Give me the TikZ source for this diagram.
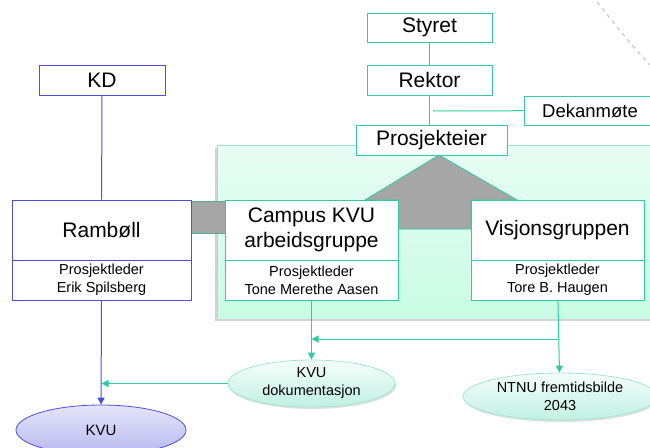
\documentclass[tikz,border=0pt]{standalone}
\usepackage{fontspec}
\setmainfont{Liberation Sans}
\usetikzlibrary{arrows.meta,shapes.geometric,shadows}
\definecolor{kblue}{RGB}{78,78,218}
\definecolor{kteal}{RGB}{46,204,158}
\definecolor{kgray}{RGB}{166,166,166}
\definecolor{panelTop}{RGB}{232,253,245}
\definecolor{panelBot}{RGB}{200,252,228}
\begin{document}
\begin{tikzpicture}[x=1pt,y=-1pt,
  basebox/.style={draw, fill=white, inner sep=0pt, line width=1pt, align=center},
  bigtxt/.style={font=\fontsize{21}{25}\selectfont},
  smalltxt/.style={font=\fontsize{14.5}{18}\selectfont},
  bluebox/.style={basebox, draw=kblue},
  tealbox/.style={basebox, draw=kteal},
  bline/.style={draw=kblue, line width=1pt},
  tline/.style={draw=kteal, line width=1pt},
  barrow/.style={bline, -{Triangle[length=7pt,width=7pt]}},
  tarrow/.style={tline, -{Triangle[length=7pt,width=7pt]}},
  greenell/.style={ellipse, inner sep=0pt, draw=kteal!45, line width=0.8pt, top color=white!60!panelTop, bottom color=kteal!30, align=center, smalltxt, drop shadow={opacity=0.25, shadow xshift=1pt, shadow yshift=-2pt}},
  blueell/.style={ellipse, inner sep=0pt, draw=kblue, line width=0.8pt, top color=kblue!15, bottom color=kblue!40, align=center, font=\fontsize{15}{18}\selectfont}
]
\useasboundingbox (0,0) rectangle (650,447);

% dashed arc
\draw[gray!40, line width=1.3pt, dash pattern=on 4pt off 4pt] (597,2) .. controls (615,24) and (630,44) .. (652,67);

% panel
\fill[gray!35] (214.5,147.5) rectangle (662,320.5);
\shade[top color=panelTop, bottom color=panelBot] (217,145) rectangle (662,318);
\draw[kteal!50, line width=0.6pt] (217,318) -- (217,145) -- (662,145);

% gray connector and gray arrow
\filldraw[fill=kgray, draw=kteal!60!gray, line width=0.8pt] (191,201) rectangle (225,233);
\filldraw[fill=kgray, draw=kteal, line width=0.8pt] (398,229) -- (398,200) -- (365,200) -- (439,155) -- (517,200) -- (471,200) -- (471,229) -- cycle;

% top boxes
\node[bluebox, bigtxt, minimum width=126pt, minimum height=30pt] (kd) at (102,80) {KD};
\node[tealbox, bigtxt, minimum width=125pt, minimum height=29pt] (styret) at (429.5,27.5) {Styret};
\node[tealbox, bigtxt, minimum width=125pt, minimum height=30pt] (rektor) at (429.5,80) {Rektor};
\node[tealbox, bigtxt, minimum width=151pt, minimum height=30pt] (eier) at (431.5,140) {Prosjekteier};
\node[tealbox, font=\fontsize{18.5}{22}\selectfont, minimum width=132pt, minimum height=29pt] (dekan) at (590,110.5) {Dekanmøte};

% main boxes
\node[bluebox, bigtxt, minimum width=179pt, minimum height=60pt] (ramT) at (101.5,230) {Rambøll};
\node[bluebox, smalltxt, minimum width=179pt, minimum height=40pt] (ramB) at (101.5,280) {Prosjektleder\\Erik Spilsberg};
\node[tealbox, bigtxt, minimum width=173pt, minimum height=60pt] (campT) at (311.5,230) {Campus KVU\\arbeidsgruppe};
\node[tealbox, smalltxt, minimum width=173pt, minimum height=40pt] (campB) at (311.5,280) {Prosjektleder\\Tone Merethe Aasen};
\node[tealbox, bigtxt, minimum width=173pt, minimum height=60pt] (visT) at (557.5,230) {Visjonsgruppen};
\node[tealbox, smalltxt, minimum width=173pt, minimum height=40pt] (visB) at (557.5,280) {Prosjektleder\\Tore B. Haugen};

% ellipses
\node[greenell, minimum width=167pt, minimum height=47pt] (kvudok) at (311.5,383.5) {KVU\\dokumentasjon};
\node[greenell, minimum width=194pt, minimum height=47pt] (ntnu) at (560,396.5) {NTNU fremtidsbilde\\2043};
\node[blueell, minimum width=170pt, minimum height=50pt] (kvu) at (101,430) {KVU};

% connectors
\draw[bline] (kd) -- (ramT);
\draw[tline] (styret) -- (rektor);
\draw[tline] (rektor) -- (rektor |- eier.north);
\coordinate (dk) at (433,111);
\draw[tline] (dk) -- (dekan);
\draw[tarrow] (campB) -- (kvudok);
\draw[tarrow] (visB) -- (ntnu);
\coordinate (vj) at (558.5,339);
\draw[tarrow] (vj) -- (campB.south |- vj);
\draw[tarrow] (kvudok) -- (kvudok.west -| ramB.south);
\draw[barrow] (ramB) -- (kvu);
\end{tikzpicture}
\end{document}
